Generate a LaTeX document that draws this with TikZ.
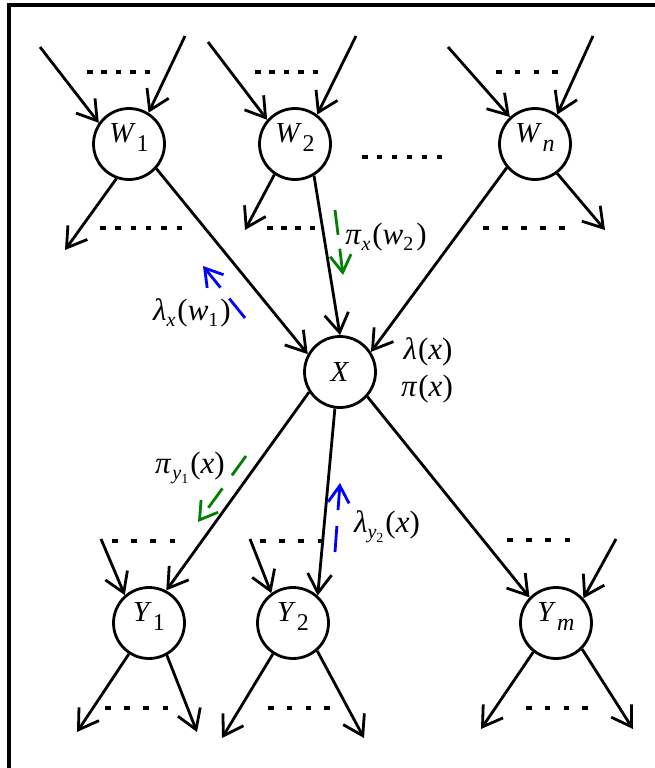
\documentclass[tikz,border=0pt]{standalone}
\usepackage{fontspec}
\setmainfont{Liberation Serif}
\usetikzlibrary{arrows.meta}
\definecolor{msggreen}{RGB}{0,128,0}
\definecolor{msgblue}{RGB}{0,0,255}
\newcommand\lowsub[3][8pt]{\raisebox{-#1}{\fontsize{#2}{#2}\selectfont #3}}
\begin{document}
\begin{tikzpicture}[x=1pt,y=-1pt,
  var/.style={circle,draw,line width=2.8pt,minimum size=71pt,inner sep=0pt,
    font=\fontsize{29}{29}\selectfont},
  subvar/.style={var,text height=12pt,text depth=15pt},
  edge/.style={line width=2.8pt,-{Straight Barb[length=19pt,width=24pt]}},
  dotrow/.style={line width=3.2pt,dash pattern=on 5.5pt off #1pt},
  msg/.style={line width=2.8pt,-{Straight Barb[length=17pt,width=21pt]}},
  lab/.style={font=\fontsize{31}{31}\selectfont,inner sep=0pt}]
\useasboundingbox (0,0) rectangle (655,768);
% frame
\draw[line width=4pt,line join=miter] (8.5,768) -- (8.5,5.3) -- (655,5.3);

% nodes
\node[subvar] (W1) at (129,144) {\textit{W}\hspace{1pt}\lowsub[9pt]{24}{1}};
\node[subvar] (W2) at (295,144) {\textit{W}\hspace{1pt}\lowsub[9pt]{24}{2}};
\node[subvar] (Wn) at (535,144) {\textit{W}\hspace{1pt}\lowsub[9pt]{24}{\textit{n}}};
\node[var] (X) at (340,372) {\textit{X}};
\node[subvar] (Y1) at (149,623) {\textit{Y}\hspace{1pt}\lowsub[9pt]{24}{1}};
\node[subvar] (Y2) at (293,623) {\textit{Y}\hspace{1pt}\lowsub[9pt]{24}{2}};
\node[subvar] (Ym) at (556,623) {\textit{Y}\hspace{1pt}\lowsub[9pt]{24}{\textit{m}}};

% free ends
\coordinate (w1i1) at (40,47);
\coordinate (w1i2) at (185,36);
\coordinate (w1o1) at (65,250);
\coordinate (w2i1) at (208,42);
\coordinate (w2i2) at (356,36);
\coordinate (w2o1) at (245,230);
\coordinate (wni1) at (448,47);
\coordinate (wni2) at (593,36);
\coordinate (wno1) at (605,230);
\coordinate (y1i1) at (101,539);
\coordinate (y1o1) at (77,732);
\coordinate (y1o2) at (197,732);
\coordinate (y2i1) at (250,539);
\coordinate (y2o1) at (222,738);
\coordinate (y2o2) at (364,738);
\coordinate (ymi1) at (616,539);
\coordinate (ymo1) at (481,729);
\coordinate (ymo2) at (633,729);

% connectors
\draw[edge] (w1i1) -- (W1.145);
\draw[edge] (w1i2) -- (W1.58);
\draw[edge] (W1.-110) -- (w1o1);
\draw[edge] (W1.-42) -- (X.151);
\draw[edge] (w2i1) -- (W2.139);
\draw[edge] (w2i2) -- (W2.53);
\draw[edge] (W2.-124) -- (w2o1);
\draw[edge] (W2.-59) -- (X.90);
\draw[edge] (wni1) -- (Wn.133);
\draw[edge] (wni2) -- (Wn.53);
\draw[edge] (Wn.-53) -- (wno1);
\draw[edge] (Wn.-140) -- (X.33);
\draw[edge] (X.-147) -- (Y1.62);
\draw[edge] (X.-98) -- (Y2.48);
\draw[edge] (X.-42) -- (Ym.136);
\draw[edge] (y1i1) -- (Y1.131);
\draw[edge] (Y1.-123) -- (y1o1);
\draw[edge] (Y1.-61) -- (y1o2);
\draw[edge] (y2i1) -- (Y2.126);
\draw[edge] (Y2.-123) -- (y2o1);
\draw[edge] (Y2.-49) -- (y2o2);
\draw[edge] (ymi1) -- (Ym.42);
\draw[edge] (Ym.-128) -- (ymo1);
\draw[edge] (Ym.-45) -- (ymo2);

% dotted rows
\draw[dotrow=8.9] (87,72) -- (150,72);
\draw[dotrow=9.8] (100,228) -- (182,228);
\draw[dotrow=8.9] (255,72) -- (318,72);
\draw[dotrow=8.7] (267,228) -- (315,228);
\draw[dotrow=9.4] (362,157) -- (442,157);
\draw[dotrow=13.3] (496,72) -- (558,72);
\draw[dotrow=13.6] (483,228) -- (565,228);
\draw[dotrow=13.7] (112,541) -- (175,541);
\draw[dotrow=13.7] (105,708) -- (168,708);
\draw[dotrow=13.7] (260,541) -- (323,541);
\draw[dotrow=13.3] (268,708) -- (330,708);
\draw[dotrow=13.7] (507,540) -- (570,540);
\draw[dotrow=13.3] (526,708) -- (588,708);

% message arrows
\coordinate (m1a) at (245,318); \coordinate (m1b) at (203,266);
\coordinate (m2a) at (335,210); \coordinate (m2b) at (343,275);
\coordinate (m3a) at (246,456); \coordinate (m3b) at (198,522);
\coordinate (m4a) at (335,552); \coordinate (m4b) at (340,483);
\draw[msg,msgblue,dash pattern=on 25pt off 14pt] (m1a) -- (m1b);
\draw[msg,msggreen,dash pattern=on 25pt off 14pt] (m2a) -- (m2b);
\draw[msg,msggreen,dash pattern=on 24pt off 16pt] (m3a) -- (m3b);
\draw[msg,msgblue,dash pattern=on 26pt off 16pt] (m4a) -- (m4b);

% labels
\node[lab] (lx) at (428,352) {\textit{λ}\hspace{1pt}(\textit{x})};
\node[lab] (px) at (427,389) {\textit{π}\hspace{1pt}(\textit{x})};
\node[lab] (lw1) at (192,313) {\textit{λ}\lowsub[6pt]{20}{\textit{x}}\hspace{2pt}(\textit{w}\lowsub[6pt]{20}{1}\hspace{2pt})};
\node[lab] (pw2) at (386,237) {\textit{π}\lowsub[6pt]{20}{\textit{x}}\hspace{2pt}(\textit{w}\lowsub[6pt]{20}{2}\hspace{3pt})};
\node[lab] (py1) at (190,468) {\textit{π}\hspace{1pt}\lowsub[6pt]{20}{\textit{y}\lowsub[4pt]{14}{1}}\hspace{2pt}(\textit{x})};
\node[lab] (ly2) at (387,527) {\textit{λ}\lowsub[6pt]{20}{\textit{y}\lowsub[4pt]{14}{2}}\hspace{2pt}(\textit{x})};
\end{tikzpicture}
\end{document}
